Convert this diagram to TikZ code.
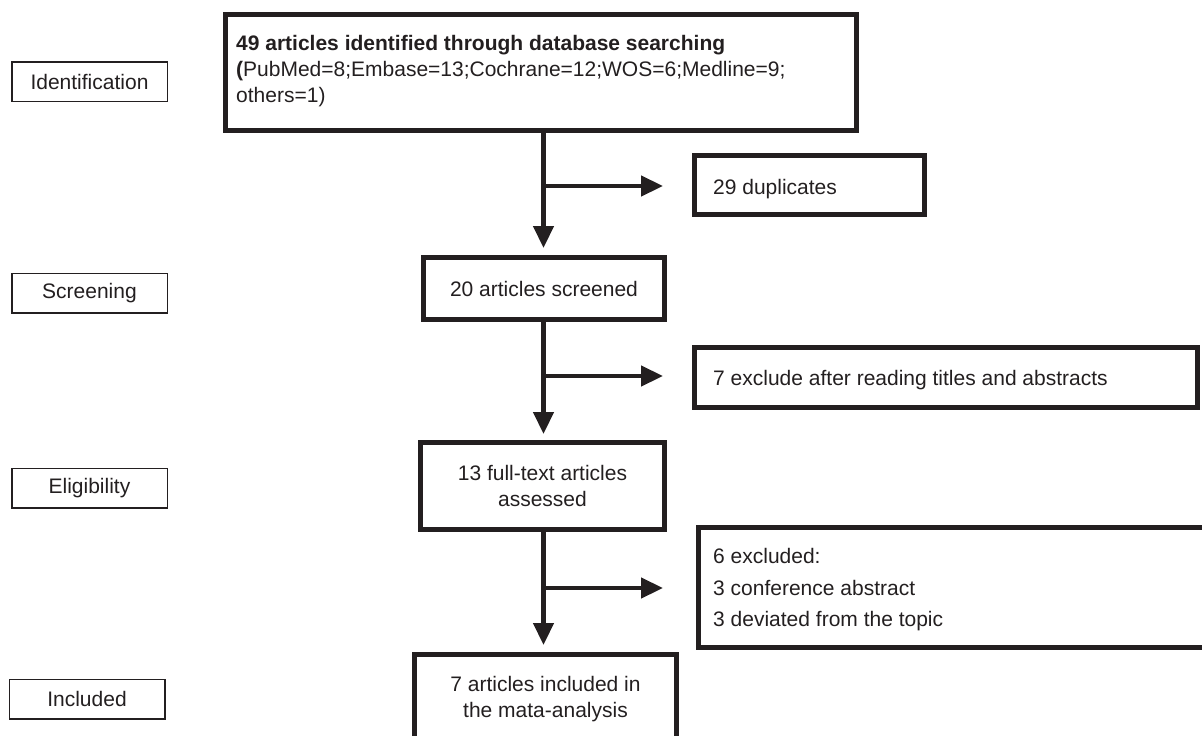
\documentclass[tikz,border=0pt]{standalone}
\usepackage{fontspec}
\setmainfont{Liberation Sans}
\usetikzlibrary{arrows.meta}
\definecolor{ink}{RGB}{35,31,32}
\begin{document}
\begin{tikzpicture}[x=1pt,y=-1pt,
  every node/.style={font=\fontsize{21pt}{26pt}\selectfont, text=ink},
  stage/.style={draw=ink, line width=1.5pt, inner sep=0pt, minimum width=155.5pt, minimum height=39.5pt},
  bigbox/.style={draw=ink, line width=5pt, inner sep=0pt},
  txt/.style={inner sep=0pt, anchor=base west},
  ctxt/.style={inner sep=0pt, anchor=base},
  link/.style={draw=ink, line width=4.5pt},
  flow/.style={link, -{Triangle[width=20pt,length=22pt]}},
]
\useasboundingbox (0,0) rectangle (1202,736);
\clip (0,0) rectangle (1202,736);

% stage labels
\node[stage] (sid) at (89.5,81.5) {Identification};
\node[stage] (sscr) at (89.5,293) {Screening};
\node[stage] (seli) at (89.5,488) {Eligibility};
\node[stage] (sinc) at (87,699) {Included};

% identification box
\node[bigbox, minimum width=631pt, minimum height=116pt] (ident) at (541,72.5) {};
\node[txt, font=\bfseries\fontsize{21pt}{26pt}\selectfont] (identa) at (236,50) {49 articles identified through database searching};
\node[txt] (identb) at (236,76) {\textbf{(}PubMed=8;Embase=13;Cochrane=12;WOS=6;Medline=9;};
\node[txt] (identc) at (236,102) {others=1)};

% duplicates
\node[bigbox, minimum width=230pt, minimum height=59pt] (dup) at (809.5,185) {};
\node[txt] (dupt) at (713,194) {29 duplicates};

% screened
\node[bigbox, minimum width=241pt, minimum height=62pt] (scr) at (544,288.5) {};
\node[ctxt] (scrt) at (544,296) {20 articles screened};

% excluded after titles
\node[bigbox, minimum width=503pt, minimum height=60pt] (exc) at (946,377.5) {};
\node[txt] (exct) at (713,385) {7 exclude after reading titles and abstracts};

% full text
\node[bigbox, minimum width=244pt, minimum height=87pt] (full) at (542.5,486) {};
\node[ctxt] (fulla) at (542.5,480) {13 full-text articles};
\node[ctxt] (fullb) at (542.5,506) {assessed};

% six excluded
\node[bigbox, minimum width=531.5pt, minimum height=120pt] (six) at (964.25,587.5) {};
\node[txt] (sixa) at (713,563) {6 excluded:};
\node[txt] (sixb) at (713,595) {3 conference abstract};
\node[txt] (sixc) at (713,626) {3 deviated from the topic};

% included
\node[bigbox, minimum width=262pt, minimum height=105pt] (inc) at (545.5,707) {};
\node[ctxt] (inca) at (545.5,691.5) {7 articles included in};
\node[ctxt] (incb) at (545.5,717) {the mata-analysis};

% connectors
\coordinate (j1) at (543.5,186);
\coordinate (e1) at (663,186);
\coordinate (j2) at (543.5,376);
\coordinate (e2) at (663,376);
\coordinate (j3) at (543.5,588);
\coordinate (e3) at (663,588);

\draw[flow, shorten >=7pt] (ident.south -| j1) -- (scr.north -| j1);
\draw[flow] (j1) -- (e1);
\draw[flow, shorten >=6pt] (scr.south -| j2) -- (full.north -| j2);
\draw[flow] (j2) -- (e2);
\draw[flow, shorten >=7pt] (full.south -| j3) -- (inc.north -| j3);
\draw[flow] (j3) -- (e3);
\end{tikzpicture}
\end{document}
